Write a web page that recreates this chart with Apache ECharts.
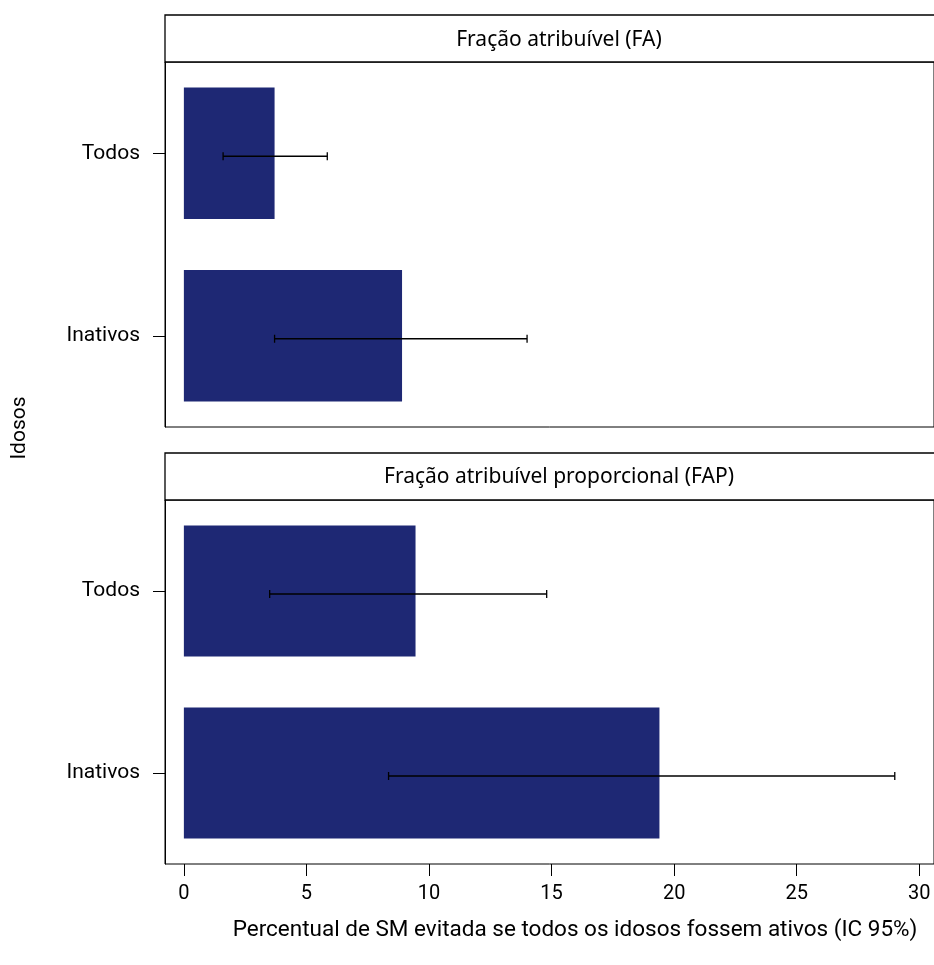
<!DOCTYPE html>
<html><head><meta charset="utf-8">
<script src="https://cdn.jsdelivr.net/npm/echarts@6/dist/echarts.min.js"></script>
<style>html,body{margin:0;padding:0;background:#fff}#c{width:934px;height:965px}</style>
</head><body><div id="c"></div>
<script>
const categories = ['Todos', 'Inativos'];
const faValues = [3.7, 8.9];
const faLow = [1.6, 3.7];
const faHigh = [5.85, 14.0];
const fapValues = [9.45, 19.4];
const fapLow = [3.5, 8.35];
const fapHigh = [14.8, 29.0];
const xTicks = [0, 5, 10, 15, 20, 25, 30];
const panelTitles = ['Fração atribuível (FA)', 'Fração atribuível proporcional (FAP)'];
const xTitle = 'Percentual de SM evitada se todos os idosos fossem ativos (IC 95%)';
const yTitle = 'Idosos';

const FONT = 'Roboto';
const barColor = '#1e2874';

function errItem(params, api) {
  const lo = api.coord([api.value(0), api.value(2)]);
  const hi = api.coord([api.value(1), api.value(2)]);
  const y = lo[1] + 3;
  const cap = 4;
  const style = { stroke: '#000', lineWidth: 1.3 };
  return { type: 'group', children: [
    { type: 'line', shape: { x1: lo[0], y1: y, x2: hi[0], y2: y }, style },
    { type: 'line', shape: { x1: lo[0], y1: y - cap, x2: lo[0], y2: y + cap }, style },
    { type: 'line', shape: { x1: hi[0], y1: y - cap, x2: hi[0], y2: y + cap }, style }
  ]};
}

const xMin = -0.77, xMax = 30.6;
function xAxis(gi, showLabels) {
  return {
    type: 'value', gridIndex: gi, min: xMin, max: xMax,
    splitLine: { show: false },
    axisLine: { show: false },
    axisLabel: {
      show: showLabels, margin: 20, color: '#000', fontSize: 20, fontFamily: FONT,
      customValues: xTicks, formatter: v => String(v)
    },
    axisTick: { show: showLabels, length: 12, lineStyle: { color: '#000' }, customValues: xTicks }
  };
}
function yAxis(gi) {
  return {
    type: 'category', gridIndex: gi, data: categories, inverse: true,
    axisLine: { show: true, onZero: false, lineStyle: { color: '#000' } },
    axisTick: { show: true, length: 12, alignWithLabel: true, lineStyle: { color: '#000' } },
    axisLabel: { margin: 25, color: '#000', fontSize: 21, fontFamily: FONT }
  };
}

const chart = echarts.init(document.getElementById('c'), null, { renderer: 'canvas' });
chart.setOption({
  animation: false,
  backgroundColor: '#fff',
  grid: [
    { left: 165, right: -3, top: 62, height: 365, show: true, borderColor: '#000', borderWidth: 1, backgroundColor: 'transparent' },
    { left: 165, right: -3, top: 500, height: 364, show: true, borderColor: '#000', borderWidth: 1, backgroundColor: 'transparent' }
  ],
  xAxis: [xAxis(0, false), xAxis(1, true)],
  yAxis: [yAxis(0), yAxis(1)],
  series: [
    { type: 'bar', xAxisIndex: 0, yAxisIndex: 0, data: faValues, barWidth: '72%', itemStyle: { color: barColor } },
    { type: 'bar', xAxisIndex: 1, yAxisIndex: 1, data: fapValues, barWidth: '72%', itemStyle: { color: barColor } },
    { type: 'custom', xAxisIndex: 0, yAxisIndex: 0, renderItem: errItem, z: 5,
      data: categories.map((c, i) => [faLow[i], faHigh[i], i]) },
    { type: 'custom', xAxisIndex: 1, yAxisIndex: 1, renderItem: errItem, z: 5,
      data: categories.map((c, i) => [fapLow[i], fapHigh[i], i]) }
  ],
  graphic: [
    { type: 'rect', shape: { x: 165, y: 15, width: 775, height: 47 }, style: { fill: '#fff', stroke: '#000', lineWidth: 1.3 } },
    { type: 'text', x: 559, y: 40, style: { text: panelTitles[0], fill: '#000', font: '21px "Noto Sans"', textAlign: 'center', textVerticalAlign: 'middle' } },
    { type: 'rect', shape: { x: 165, y: 453, width: 775, height: 47 }, style: { fill: '#fff', stroke: '#000', lineWidth: 1.3 } },
    { type: 'text', x: 559, y: 477, style: { text: panelTitles[1], fill: '#000', font: '21px "Noto Sans"', textAlign: 'center', textVerticalAlign: 'middle' } },
    { type: 'text', x: 575, y: 930, style: { text: xTitle, fill: '#000', font: '22.5px ' + FONT, textAlign: 'center', textVerticalAlign: 'middle' } },
    { type: 'text', x: 20, y: 428, rotation: Math.PI / 2, style: { text: yTitle, fill: '#000', font: '21px ' + FONT, textAlign: 'center', textVerticalAlign: 'middle' } }
  ]
});
</script></body></html>
